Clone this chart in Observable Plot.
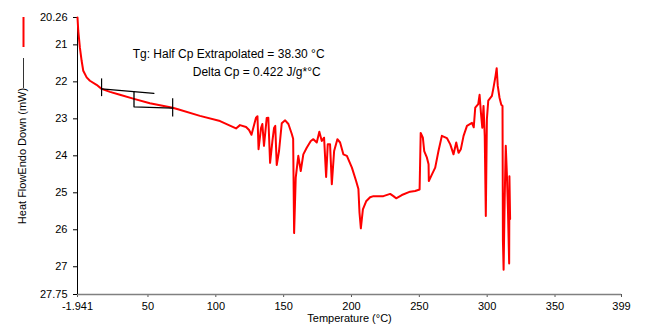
<!DOCTYPE html>
<html><head><meta charset="utf-8">
<script src="https://cdn.jsdelivr.net/npm/d3@7"></script>
<script src="https://cdn.jsdelivr.net/npm/@observablehq/plot@0.6"></script>
<style>
body{margin:0;background:#fff}
#chart{position:relative;width:661px;height:325px;overflow:hidden}
</style>
</head><body><div id="chart"></div>
<script>
const temperature = [-1.941, -1.4, -0.2, 1.1, 2.3, 4.8, 7.2, 12.1, 15.8, 22.0, 29.3, 39.7, 51.4, 68.2, 72.1, 88.3, 103.1, 114.9, 117.8, 122.3, 124.5, 126.3, 129.6, 130.7, 131.5, 133.3, 134.3, 135.5, 137.5, 138.7, 140.0, 141.7, 142.9, 143.8, 144.9, 146.6, 148.6, 151.1, 153.5, 156.0, 157.0, 157.7, 158.9, 160.8, 162.6, 164.5, 167.0, 170.0, 171.9, 174.4, 176.3, 178.1, 179.8, 181.3, 182.5, 184.2, 185.5, 187.2, 189.6, 191.6, 194.0, 196.6, 200.3, 203.4, 205.1, 205.9, 206.9, 208.4, 210.8, 213.7, 216.2, 223.5, 228.5, 230.9, 232.9, 237.1, 243.2, 246.9, 250.2, 251.0, 252.6, 253.6, 255.6, 256.8, 257.0, 259.3, 261.7, 264.1, 266.6, 270.3, 272.8, 275.2, 277.2, 278.9, 280.6, 282.6, 285.1, 288.8, 290.1, 291.2, 293.4, 294.4, 295.4, 296.4, 297.3, 298.2, 299.0, 299.8, 300.8, 303.5, 304.7, 306.2, 307.0, 307.8, 309.1, 310.4, 311.3, 311.6, 312.1, 312.9, 313.7, 314.5, 315.3, 316.2, 316.4, 316.9];
const heatFlow = [20.26, 20.61, 21.07, 21.43, 21.70, 21.88, 21.97, 22.08, 22.19, 22.27, 22.35, 22.46, 22.58, 22.70, 22.74, 22.92, 23.06, 23.26, 23.17, 23.22, 23.30, 23.43, 22.97, 22.93, 23.82, 23.25, 23.14, 23.73, 22.98, 22.97, 24.19, 23.60, 23.25, 23.19, 24.25, 23.87, 23.12, 23.04, 23.14, 23.41, 23.54, 26.09, 24.59, 24.00, 24.41, 23.96, 23.78, 23.60, 23.55, 23.64, 23.35, 23.60, 23.51, 24.57, 23.69, 23.69, 24.77, 23.87, 23.55, 23.64, 23.96, 24.00, 24.32, 24.68, 24.90, 25.54, 25.96, 25.45, 25.23, 25.12, 25.09, 25.09, 25.03, 25.09, 25.15, 25.06, 24.97, 24.95, 24.91, 23.38, 23.51, 23.87, 24.05, 24.23, 24.68, 24.50, 24.32, 23.87, 23.46, 23.52, 23.69, 23.96, 23.64, 23.92, 23.82, 23.46, 23.19, 23.11, 23.23, 22.70, 22.60, 22.35, 22.84, 23.24, 22.65, 23.46, 25.63, 23.00, 22.51, 22.38, 22.15, 21.83, 21.63, 22.11, 22.43, 22.62, 22.65, 26.28, 27.08, 25.18, 23.73, 24.47, 25.44, 26.91, 24.55, 25.71];

const xTicks = [-1.941, 50, 100, 150, 200, 250, 300, 350, 399];
const yTicks = [20.26, 21, 22, 23, 24, 25, 26, 27, 27.75];
const xDomain = [-1.941, 399];
const yDomain = [20.26, 27.75];

// Tg analysis construction lines
const upperTangentT = [15.8, 54.4];
const upperTangentV = [22.19, 22.31];
const stepT = [39.7, 39.7, 68.2];
const stepV = [22.264, 22.675, 22.71];
const markerT = [15.8, 68.2];
const markerLow = [21.92, 22.46];
const markerHigh = [22.40, 22.95];

const annotationLines = ["Tg: Half Cp Extrapolated = 38.30 °C", "Delta Cp = 0.422 J/g*°C"];
const annotationT = [38.7, 83.0];
const annotationV = [21.245, 21.74];

const xLabel = "Temperature (°C)";
const yLabel = "Heat FlowEndo Down (mW)";

const curve = temperature.map((t, i) => ({t, v: heatFlow[i]}));
const upper = upperTangentT.map((t, i) => ({t, v: upperTangentV[i]}));
const step = stepT.map((t, i) => ({t, v: stepV[i]}));
const markers = markerT.map((t, i) => ({t, lo: markerLow[i], hi: markerHigh[i]}));
const notes = annotationLines.map((s, i) => ({s, t: annotationT[i], v: annotationV[i]}));

const plot = Plot.plot({
  width: 661, height: 325,
  marginLeft: 77, marginRight: 40, marginTop: 17, marginBottom: 31,
  style: {fontFamily: "'Liberation Sans', Arial, sans-serif", fontSize: "11px", color: "#000", background: "#fff"},
  x: {domain: xDomain, ticks: xTicks, tickFormat: d => String(d), label: null},
  y: {domain: yDomain, reverse: true, ticks: yTicks, tickFormat: d => String(d), label: null},
  marks: [
    Plot.axisX({ticks: xTicks, tickFormat: d => String(d), tickSize: 3, tickPadding: 5, label: null, stroke: "#555"}),
    Plot.axisY({ticks: yTicks, tickFormat: d => String(d), tickSize: 4, tickPadding: 6, label: null}),
    Plot.ruleY([yDomain[1]], {stroke: "#808080", strokeWidth: 1.6}),
    Plot.ruleX([xDomain[0]], {stroke: "#000", strokeWidth: 1}),
    Plot.line(curve, {x: "t", y: "v", stroke: "#ff0000", strokeWidth: 2}),
    Plot.line(upper, {x: "t", y: "v", stroke: "#000", strokeWidth: 1.3}),
    Plot.line(step, {x: "t", y: "v", stroke: "#000", strokeWidth: 1.3}),
    Plot.ruleX(markers, {x: "t", y1: "lo", y2: "hi", stroke: "#000", strokeWidth: 1.2}),
    Plot.text(notes, {x: "t", y: "v", text: "s", textAnchor: "start", fontSize: 12, fill: "#000"}),
    Plot.text([xLabel], {frameAnchor: "bottom", dy: 27, fontSize: 11, fill: "#000"}),
    Plot.text([yLabel], {frameAnchor: "left", dx: -55, rotate: -90, textAnchor: "middle", fontSize: 11, fill: "#000"})
  ]
});
document.getElementById("chart").appendChild(plot);

// legend swatches beside the y-axis title
const svg = d3.select(plot);
svg.append("line").attr("x1", 23.5).attr("x2", 23.5).attr("y1", 17).attr("y2", 47)
  .attr("stroke", "#ff0000").attr("stroke-width", 2);
svg.append("line").attr("x1", 23.5).attr("x2", 23.5).attr("y1", 58).attr("y2", 88)
  .attr("stroke", "#333").attr("stroke-width", 1);
</script>
</body></html>
